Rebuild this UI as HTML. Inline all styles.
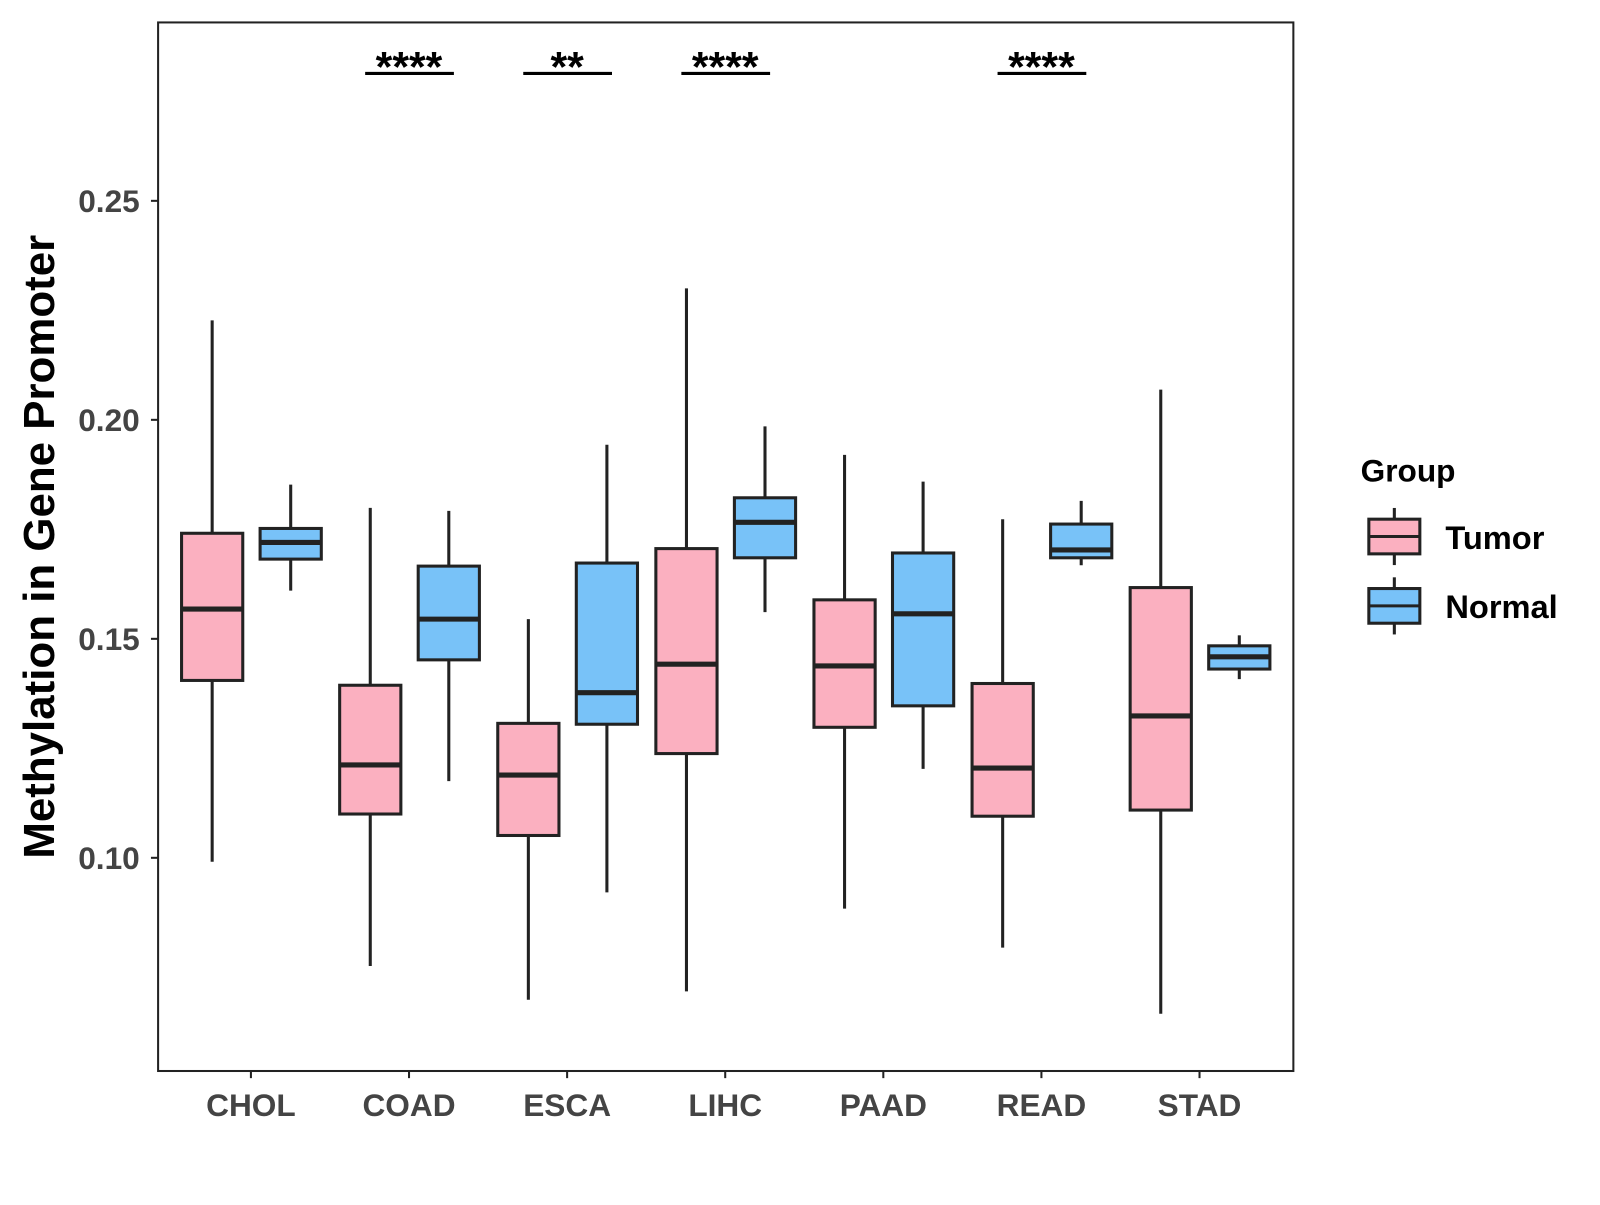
<!DOCTYPE html>
<html><head><meta charset="utf-8"><style>
body{margin:0;background:#fff;}
svg text{font-family:"Liberation Sans",Arial,sans-serif;font-weight:bold;}
</style></head><body>
<svg id="chart" width="1600" height="1200" xmlns="http://www.w3.org/2000/svg">
<g transform="scale(1.02)">
<rect x="155" y="22" width="1113" height="1028" fill="#fff" stroke="#222" stroke-width="2"/>
<g id="marks"></g>
<text x="0" y="0" transform="translate(53,536) rotate(-90)" text-anchor="middle" font-size="43" fill="#000">Methylation in Gene Promoter</text>
<g>
<text x="1334" y="472" font-size="31" fill="#000">Group</text>
<g>
<line x1="1367" y1="498" x2="1367" y2="554" stroke="#222" stroke-width="3"/>
<rect x="1342" y="509" width="50" height="34" fill="#fbb0c0" stroke="#222" stroke-width="3"/>
<line x1="1342" y1="526" x2="1392" y2="526" stroke="#222" stroke-width="3"/>
<text x="1417" y="538" font-size="32" fill="#000">Tumor</text></g>
<g>
<line x1="1367" y1="566" x2="1367" y2="622" stroke="#222" stroke-width="3"/>
<rect x="1342" y="577" width="50" height="34" fill="#78c2f8" stroke="#222" stroke-width="3"/>
<line x1="1342" y1="594" x2="1392" y2="594" stroke="#222" stroke-width="3"/>
<text x="1417" y="606" font-size="32" fill="#000">Normal</text></g>
</g>
</g>
</svg>
<script>
const categories=["CHOL","COAD","ESCA","LIHC","PAAD","READ","STAD"];
// [low, q1, median, q3, high]
const tumorStats=[[0.0991,0.1405,0.1568,0.1741,0.2227],[0.0753,0.1100,0.1212,0.1394,0.1799],[0.0676,0.1051,0.1189,0.1307,0.1545],[0.0695,0.1238,0.1442,0.1706,0.2300],[0.0884,0.1298,0.1438,0.1589,0.1920],[0.0795,0.1095,0.1205,0.1398,0.1773],[0.0644,0.1109,0.1324,0.1617,0.2069]];
const normalStats=[[0.1610,0.1682,0.1720,0.1752,0.1852],[0.1175,0.1452,0.1545,0.1666,0.1792],[0.0921,0.1305,0.1377,0.1673,0.1943],[0.1561,0.1685,0.1766,0.1822,0.1985],[0.1203,0.1347,0.1557,0.1696,0.1859],[0.1668,0.1685,0.1703,0.1762,0.1815],[0.1408,0.1431,0.1459,0.1484,0.1508]];
const significance=["","****","**","****","","****",""];
const yTicks=[0.10,0.15,0.20,0.25];
const yTickLabels=["0.10","0.15","0.20","0.25"];

const NS="http://www.w3.org/2000/svg";
const g=document.getElementById('marks');
function y(v){return 841-(v-0.10)/0.05*214.7;}
function xc(i){return 246+i*155;}
function mk(tag,attrs,parent){const e=document.createElementNS(NS,tag);for(const k in attrs)e.setAttribute(k,attrs[k]);(parent||g).appendChild(e);return e;}

yTicks.forEach((t,i)=>{
  const tk=mk('line',{x1:148,x2:155,y1:y(t),y2:y(t),stroke:'#222','stroke-width':2});
  
  
  const lb=mk('text',{x:137,y:y(t)+11,'text-anchor':'end','font-size':31,fill:'#444'});
  lb.textContent=yTickLabels[i];
  
  
});
categories.forEach((c,i)=>{
  const tk=mk('line',{x1:xc(i),x2:xc(i),y1:1050,y2:1057,stroke:'#222','stroke-width':2});
  
  
  const lb=mk('text',{x:xc(i),y:1094,'text-anchor':'middle','font-size':31,fill:'#444'});
  lb.textContent=c;
  
  
});
function box(cx,s,fill,name){
  const grp=mk('g',{});
  
  
  mk('line',{x1:cx,x2:cx,y1:y(s[0]),y2:y(s[4]),stroke:'#222','stroke-width':3},grp);
  mk('rect',{x:cx-30,y:y(s[3]),width:60,height:y(s[1])-y(s[3]),fill:fill,stroke:'#222','stroke-width':3},grp);
  mk('line',{x1:cx-30,x2:cx+30,y1:y(s[2]),y2:y(s[2]),stroke:'#222','stroke-width':5},grp);
}
categories.forEach((c,i)=>{
  box(xc(i)-38,tumorStats[i],'#fbb0c0','box-tumor-'+c.toLowerCase());
  box(xc(i)+39,normalStats[i],'#78c2f8','box-normal-'+c.toLowerCase());
  if(significance[i]){
    const sg=mk('g',{});
    
    
    mk('line',{x1:xc(i)-43,x2:xc(i)+44,y1:72,y2:72,stroke:'#000','stroke-width':3},sg);
    const t=mk('text',{x:xc(i),y:80,'text-anchor':'middle','font-size':42,fill:'#000'},sg);
    t.textContent=significance[i];
  }
});
</script>
</body></html>
